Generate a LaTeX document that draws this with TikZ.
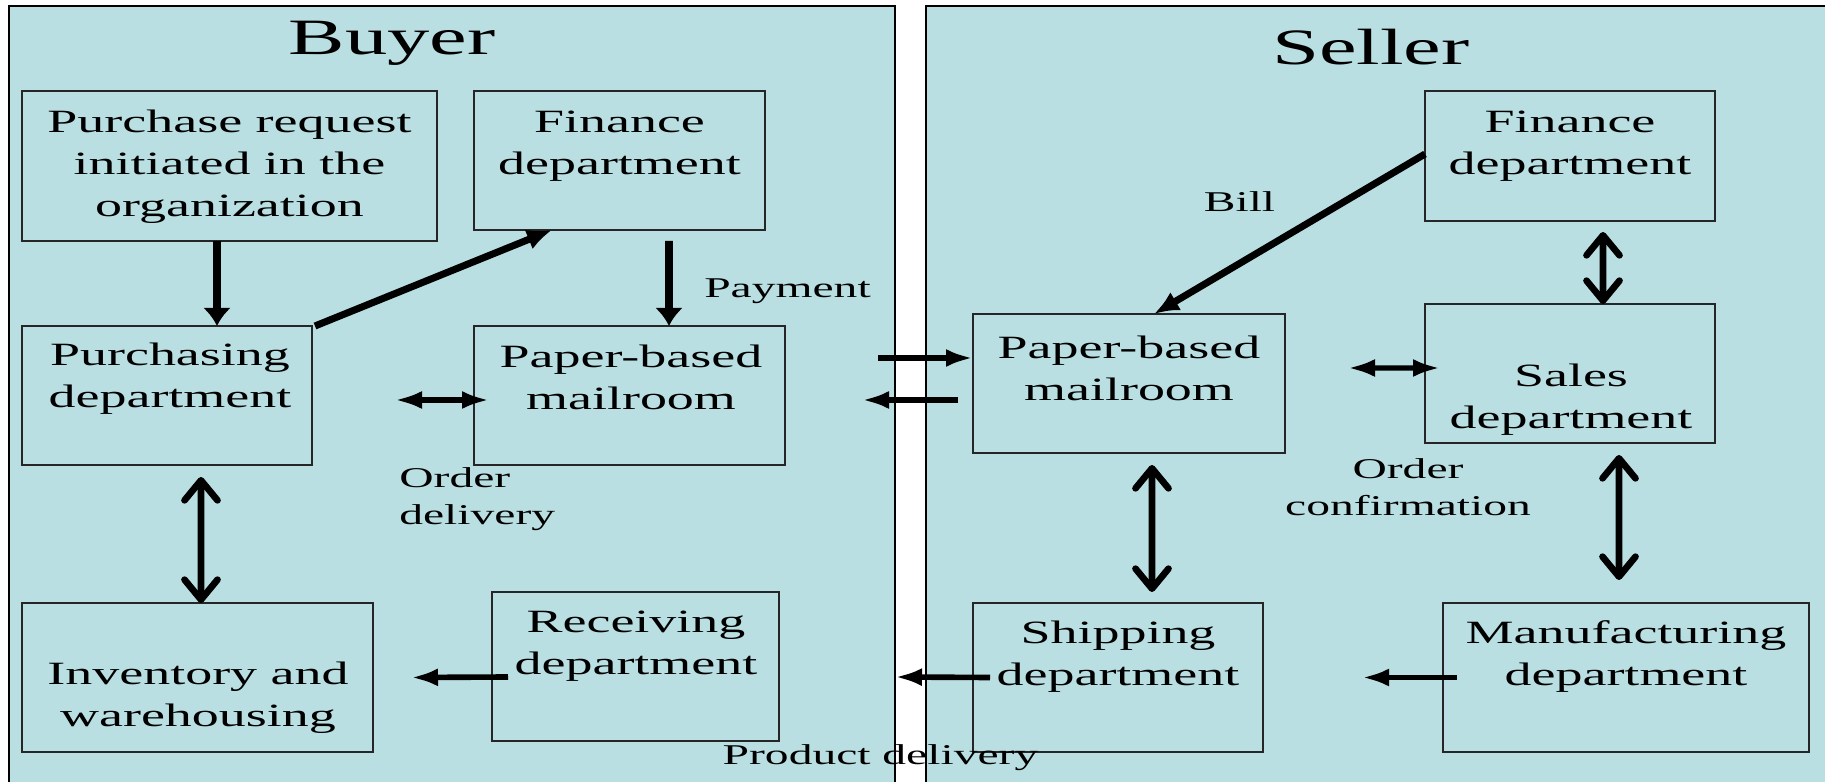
\documentclass[tikz,border=0pt]{standalone}
\usepackage{fontspec}
\setmainfont{Liberation Serif}[FakeStretch=1.66]
\usetikzlibrary{arrows.meta}
\definecolor{panelfill}{RGB}{186,223,226}
\tikzset{
  panel/.style={draw=black, line width=0.9pt, fill=panelfill, inner sep=0pt, outer sep=0pt},
  box/.style={draw=black!85, line width=0.8pt, inner sep=0pt, outer sep=0pt},
  txt/.style={align=center, inner sep=0pt, font=\fontsize{18.5}{23.8}\selectfont},
  lbl/.style={inner sep=0pt, font=\fontsize{16.3}{21}\selectfont},
  ttl/.style={inner sep=0pt, font=\fontsize{29}{34}\selectfont},
  harr/.style={line width=3.2pt, -{Latex[length=0.54cm,width=0.36cm]}},
  varr/.style={line width=4.5pt, -{Latex[length=0.36cm,width=0.56cm]}},
  darr/.style={line width=4pt, -{Latex[length=0.5cm,width=0.42cm]}},
  hdbl/.style={line width=2.9pt, >={Latex[length=0.54cm,width=0.36cm]}, <->},
  vdbl/.style={line width=3.8pt, >={Straight Barb[length=0.4cm,width=0.66cm,round]}, <->}
}
\begin{document}
\begin{tikzpicture}
      \useasboundingbox (0,0) rectangle (36.5,15.64);
      \clip (0,0) rectangle (36.5,15.64);
      \node[panel, minimum width=17.72cm, minimum height=16.02cm] (buyer) at (9.04,7.51) {};
      \node[panel, minimum width=18.48cm, minimum height=16.02cm] (seller) at (27.76,7.51) {};
      \node[ttl, anchor=base] (buyer-t) at (7.84,14.54) {Buyer};
      \node[ttl, anchor=base] (seller-t) at (27.42,14.34) {Seller};

      \node[box, minimum width=8.30cm, minimum height=3.00cm] (req) at (4.59,12.32) {};
      \node[box, minimum width=5.82cm, minimum height=2.78cm] (bfin) at (12.39,12.43) {};
      \node[box, minimum width=5.80cm, minimum height=2.78cm] (purch) at (3.34,7.73) {};
      \node[box, minimum width=6.22cm, minimum height=2.78cm] (bmail) at (12.59,7.73) {};
      \node[box, minimum width=7.02cm, minimum height=2.98cm] (inv) at (3.95,2.09) {};
      \node[box, minimum width=5.74cm, minimum height=2.98cm] (recv) at (12.71,2.31) {};
      \node[box, minimum width=5.80cm, minimum height=2.60cm] (sfin) at (31.40,12.52) {};
      \node[box, minimum width=6.24cm, minimum height=2.78cm] (smail) at (22.58,7.97) {};
      \node[box, minimum width=5.80cm, minimum height=2.78cm] (sales) at (31.40,8.17) {};
      \node[box, minimum width=5.80cm, minimum height=2.98cm] (ship) at (22.36,2.09) {};
      \node[box, minimum width=7.32cm, minimum height=2.98cm] (manu) at (32.52,2.09) {};

      \node[txt] (req-t) at (4.59,12.31) {Purchase request\\initiated in the\\organization};
      \node[txt] (bfin-t) at (12.39,12.72) {Finance\\department};
      \node[txt] (purch-t) at (3.40,8.06) {Purchasing\\department};
      \node[txt] (bmail-t) at (12.62,8.10) {Paper-based\\mailroom};
      \node[txt] (inv-t) at (3.96,1.69) {Inventory and\\warehousing};
      \node[txt] (recv-t) at (12.72,2.72) {Receiving\\department};
      \node[txt] (sfin-t) at (31.40,12.72) {Finance\\department};
      \node[txt] (smail-t) at (22.58,8.28) {Paper-based\\mailroom};
      \node[txt] (sales-t) at (31.42,7.65) {Sales\\department};
      \node[txt] (ship-t) at (22.36,2.51) {Shipping\\department};
      \node[txt] (manu-t) at (32.52,2.51) {Manufacturing\\department};

      \node[lbl, anchor=base] (pay) at (15.75,9.68) {Payment};
      \node[lbl, anchor=base] (bill) at (24.79,11.40) {Bill};
      \node[lbl, align=left, anchor=west] (odel) at (7.98,5.65) {Order\\delivery};
      \node[lbl, align=center] (oconf) at (28.16,5.89) {Order\\confirmation};
      \node[lbl, anchor=base] (pdel) at (17.61,0.34) {Product delivery};

      \draw[varr] ([xshift=-0.25cm]req.south) -- ([xshift=1cm]purch.north);
      \draw[darr] ([xshift=0.06cm]purch.north east) -- ([xshift=-1.35cm]bfin.south);
      \draw[varr] ([shift={(0.99,-0.22)}]bfin.south) -- ([xshift=0.79cm]bmail.north);
      \draw[hdbl] ([shift={(1.66,-0.09)}]purch.east) -- ([shift={(0.3,-0.09)}]bmail.west);
      \draw[vdbl] ([shift={(0.68,-0.24)}]purch.south) -- ([xshift=0.07cm]inv.north);
      \draw[harr] ([shift={(0.32,-0.21)}]recv.west) -- ([xshift=0.76cm]inv.east);
      \draw[harr] ([shift={(1.86,0.75)}]bmail.east) -- ([yshift=0.51cm]smail.west);
      \draw[harr] ([shift={(-0.3,-0.33)}]smail.west) -- ([shift={(1.54,-0.09)}]bmail.east);
      \draw[harr] ([xshift=0.34cm]ship.west) -- ([shift={(2.32,-0.21)}]recv.east);
      \draw[harr] ([xshift=0.28cm]manu.west) -- ([xshift=1.98cm]ship.east);
      \draw[darr] ([yshift=0.04cm]sfin.west) -- ([xshift=0.5cm]smail.north);
      \draw[vdbl] ([shift={(0.66,-0.22)}]sfin.south) -- ([xshift=0.66cm]sales.north);
      \draw[hdbl] ([shift={(1.26,0.31)}]smail.east) -- ([shift={(0.3,0.11)}]sales.west);
      \draw[vdbl] ([shift={(0.46,-0.24)}]smail.south) -- ([shift={(0.68,0.22)}]ship.north);
      \draw[vdbl] ([shift={(0.98,-0.24)}]sales.south) -- ([shift={(-0.14,0.46)}]manu.north);
    \end{tikzpicture}
\end{document}
